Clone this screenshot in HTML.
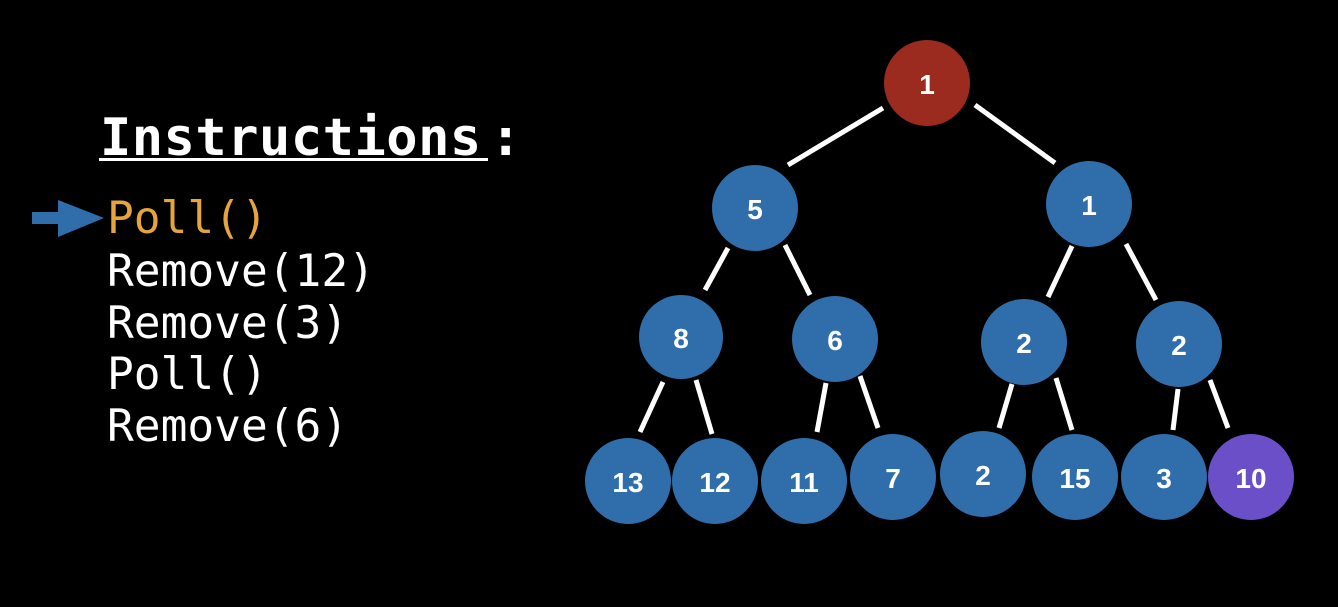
<!DOCTYPE html>
<html><head><style>
html,body{margin:0;padding:0;background:#000;}
body{width:1338px;height:602px;position:relative;overflow:hidden;}
</style></head><body>
<svg width="1338" height="602" viewBox="0 0 1338 602" xmlns="http://www.w3.org/2000/svg">
<rect width="1338" height="602" fill="#000"/>
<text x="100" y="155" font-family="DejaVu Sans Mono, Liberation Mono, monospace" font-weight="bold" font-size="52" letter-spacing="0.5" fill="#fff">Instructions</text>
<text x="490" y="155" font-family="DejaVu Sans Mono, Liberation Mono, monospace" font-weight="bold" font-size="52" fill="#fff">:</text>
<rect x="99" y="158" width="389" height="3" fill="#fff"/>
<g font-family="DejaVu Sans Mono, Liberation Mono, monospace" font-size="44.5" fill="#fff">
<text x="107" y="233" fill="#e6a43c">Poll()</text>
<text x="107" y="286">Remove(12)</text>
<text x="107" y="338">Remove(3)</text>
<text x="107" y="389">Poll()</text>
<text x="107" y="441">Remove(6)</text>
</g>
<rect x="32" y="212" width="30" height="12" fill="#2f6eaa"/>
<polygon points="58,200 104,218 58,237" fill="#2f6eaa"/>
<g stroke="#fff" stroke-width="5">
<line x1="883" y1="108" x2="788" y2="165"/>
<line x1="975" y1="105" x2="1055" y2="163"/>
<line x1="728" y1="248" x2="705" y2="290"/>
<line x1="785" y1="245" x2="810" y2="295"/>
<line x1="1072" y1="246" x2="1048" y2="297"/>
<line x1="1126" y1="244" x2="1156" y2="300"/>
<line x1="663" y1="382" x2="640" y2="432"/>
<line x1="696" y1="380" x2="712" y2="434"/>
<line x1="826" y1="383" x2="817" y2="432"/>
<line x1="860" y1="376" x2="878" y2="428"/>
<line x1="1012" y1="384" x2="999" y2="428"/>
<line x1="1056" y1="378" x2="1072" y2="430"/>
<line x1="1178" y1="389" x2="1173" y2="430"/>
<line x1="1210" y1="380" x2="1228" y2="428"/>
</g>
<g fill="#2f6eaa">
<circle cx="755" cy="208" r="43"/>
<circle cx="1089" cy="204" r="43"/>
<circle cx="681" cy="337" r="42"/>
<circle cx="835" cy="339" r="43"/>
<circle cx="1024" cy="342" r="43"/>
<circle cx="1179" cy="344" r="43"/>
<circle cx="628" cy="481" r="43"/>
<circle cx="715" cy="481" r="43"/>
<circle cx="804" cy="481" r="43"/>
<circle cx="893" cy="477" r="43"/>
<circle cx="983" cy="474" r="43"/>
<circle cx="1075" cy="477" r="43"/>
<circle cx="1164" cy="477" r="43"/>
</g>
<circle cx="927" cy="83" r="43" fill="#9b2b1f"/>
<circle cx="1251" cy="477" r="43" fill="#6a4fc8"/>
<g font-family="Liberation Sans, sans-serif" font-weight="bold" font-size="28" fill="#fff" text-anchor="middle">
<text x="927" y="94">1</text>
<text x="755" y="219">5</text>
<text x="1089" y="215">1</text>
<text x="681" y="348">8</text>
<text x="835" y="350">6</text>
<text x="1024" y="353">2</text>
<text x="1179" y="355">2</text>
<text x="628" y="492">13</text>
<text x="715" y="492">12</text>
<text x="804" y="492">11</text>
<text x="893" y="488">7</text>
<text x="983" y="485">2</text>
<text x="1075" y="488">15</text>
<text x="1164" y="488">3</text>
<text x="1251" y="488">10</text>
</g>
</svg>
</body></html>
